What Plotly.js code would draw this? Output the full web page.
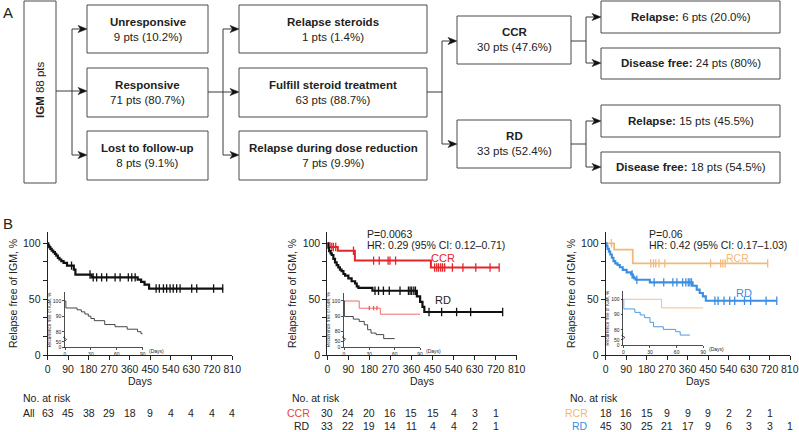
<!DOCTYPE html>
<html><head><meta charset="utf-8">
<script src="https://cdn.plot.ly/plotly-3.0.1.min.js"></script>
<style>html,body{margin:0;padding:0;background:#fff}#c{width:799px;height:432px}</style>
</head><body><div id="c"></div>
<script>
// ================= DATA =================
// Flowchart (panel A)
const cohortLabel = ['IGM', '88 pts'];
const stage1Names = ['Unresponsive', 'Responsive', 'Lost to follow-up'];
const stage1Counts = ['9 pts (10.2%)', '71 pts (80.7%)', '8 pts (9.1%)'];
const stage2Names = ['Relapse steroids', 'Fulfill steroid treatment', 'Relapse during dose reduction'];
const stage2Counts = ['1 pts (1.4%)', '63 pts (88.7%)', '7 pts (9.9%)'];
const stage3Names = ['CCR', 'RD'];
const stage3Counts = ['30 pts (47.6%)', '33 pts (52.4%)'];
const outcomeNames = ['Relapse:', 'Disease free:', 'Relapse:', 'Disease free:'];
const outcomeCounts = ['6 pts (20.0%)', '24 pts (80%)', '15 pts (45.5%)', '18 pts (54.5%)'];

// Kaplan-Meier axes
const xTickDays = [0, 90, 180, 270, 360, 450, 540, 630, 720, 810];
const insetTickDays = [0, 30, 60, 90];

// Panel B1: all patients
const allT = [0, 3, 7, 12, 18, 25, 32, 38, 45, 52, 60, 70, 85, 115, 122, 193, 395, 410, 425, 445, 770];
const allS = [100, 98, 96.5, 95, 93.5, 92, 90.5, 89, 87, 85.5, 84, 82.5, 80, 76.5, 72, 69.5, 67.5, 65.5, 63, 59.5, 59.5];
const allCens = [105, 186, 200, 215, 237, 259, 296, 318, 354, 369, 384, 476, 490, 508, 522, 537, 551, 566, 581, 632, 654, 728, 768];
const allRisk = [63, 45, 38, 29, 18, 9, 4, 4, 4, 4];
const allInT = [0, 1, 14, 19, 23, 27, 30, 34, 46, 58, 72, 84, 88, 90];
const allInS = [100, 95.5, 94.3, 93, 91.6, 90.2, 88.7, 87.3, 84.8, 83.4, 81.8, 80.2, 78.9, 78.9];

// Panel B2: CCR vs RD
const ccrT = [0, 10, 45, 118, 443, 735];
const ccrS = [100, 96.7, 93.3, 84.5, 78.3, 78.3];
const ccrCens = [19, 26, 36, 112, 198, 222, 260, 268, 292, 459, 468, 476, 485, 493, 502, 535, 580, 635, 696, 735];
const rd2T = [0, 3, 8, 14, 19, 26, 33, 40, 47, 54, 61, 69, 76, 90, 104, 119, 126, 133, 193, 383, 397, 407, 415, 750];
const rd2S = [100, 96, 93, 91, 89.5, 86, 83, 80.5, 78.5, 76.5, 75, 72.5, 71, 68.5, 66, 64, 61.5, 60, 57.5, 52.5, 47.5, 43, 38.5, 38.5];
const rd2Cens = [204, 219, 240, 265, 311, 347, 354, 361, 370, 377, 435, 489, 553, 613, 750];
const ccrRisk = [30, 24, 20, 16, 15, 15, 4, 3, 1];
const rd2Risk = [33, 22, 19, 14, 11, 4, 4, 2, 1];
const ccrInT = [0, 18, 43, 91];
const ccrInS = [100, 95.3, 91.4, 91.4];
const ccrInCens = [30, 35, 39];
const rd2InT = [0, 0.5, 11, 18, 24, 28, 32, 38, 47, 60];
const rd2InS = [100, 89.9, 88.2, 86.7, 84.5, 81.3, 79.1, 78.1, 75.5, 75.5];

// Panel B3: RCR vs RD
const rcrT = [0, 37, 119, 712];
const rcrS = [100, 94.4, 82, 82];
const rcrCens = [25, 198, 210, 220, 234, 260, 461, 505, 515, 525, 712];
const rd3T = [0, 4, 8, 14, 20, 27, 34, 42, 52, 62, 75, 92, 112, 120, 125, 132, 194, 382, 400, 413, 427, 440, 752];
const rd3S = [100, 97.5, 95, 92.5, 90, 87, 84, 82, 80.5, 78.5, 76.2, 74, 72, 70, 68.6, 67.3, 65, 62, 58.5, 55.5, 52.5, 48.5, 48.5];
const rd3Cens = [116, 137, 213, 255, 295, 313, 338, 352, 363, 370, 377, 480, 494, 520, 545, 567, 610, 637, 705, 752];
const rcrRisk = [18, 16, 15, 9, 9, 9, 2, 2, 1];
const rd3Risk = [45, 30, 25, 21, 17, 9, 6, 3, 3, 1];
const rcrInT = [0, 43, 90];
const rcrInS = [100, 94.4, 94.4];
const rd3InT = [0, 0.5, 13, 19, 24, 30, 34, 45, 59, 64, 75];
const rd3InS = [100, 93.7, 91.5, 89.8, 88, 85, 82.1, 80.4, 78.9, 76.7, 76.7];

// ================= HELPERS =================
const W = 799, H = 432;
const FONT = 'Liberation Sans, Arial, Helvetica, sans-serif';
const TXT = '#222';
const fx = p => p / W;
const fy = p => 1 - p / H;
const RED = '#e4262b', ORANGE = '#f3b87c', BLUE = '#3b8ee2', BLACK = '#111';

function stepAt(T, S, t) { let v = S[0]; for (let i = 0; i < T.length; i++) if (T[i] <= t) v = S[i]; return v; }

const shapes = [];
const annotations = [];
const LINEC = '#3a3a3a';
function rect(x0, y0, x1, y1) {
  shapes.push({type: 'rect', xref: 'paper', yref: 'paper', x0: fx(x0), x1: fx(x1), y0: fy(y1), y1: fy(y0),
    line: {color: '#4a4a4a', width: 1}, fillcolor: '#fff', layer: 'above'});
}
function seg(x0, y0, x1, y1) {
  shapes.push({type: 'line', xref: 'paper', yref: 'paper', x0: fx(x0), x1: fx(x1), y0: fy(y0), y1: fy(y1),
    line: {color: LINEC, width: 1}});
}
function arrow(x0, x1, y) {
  seg(x0, y, x1 - 5, y);
  const p = `M ${fx(x1)} ${fy(y)} L ${fx(x1 - 9)} ${fy(y - 3.6)} L ${fx(x1 - 6.5)} ${fy(y)} L ${fx(x1 - 9)} ${fy(y + 3.6)} Z`;
  shapes.push({type: 'path', xref: 'paper', yref: 'paper', path: p, fillcolor: '#111', line: {color: '#111', width: 0.5}});
}
function txt(x, y, text, opts) {
  annotations.push(Object.assign({xref: 'paper', yref: 'paper', x: fx(x), y: fy(y), text: text, showarrow: false,
    xanchor: 'center', yanchor: 'middle', font: {family: FONT, size: 11.5, color: TXT}}, opts || {}));
}

// ================= PANEL A: FLOWCHART =================
txt(8, 12, 'A', {font: {family: FONT, size: 15, color: TXT}});
txt(8, 223, 'B', {font: {family: FONT, size: 15, color: TXT}});

rect(24, 1, 56, 183);
txt(40, 90, '<b>' + cohortLabel[0] + '</b> ' + cohortLabel[1], {textangle: -90});

const rowY = [[5, 53], [68, 117], [131, 180]];
// column 1
seg(56, 91, 72, 91);
seg(72, 29, 72, 155);
[29, 91, 155].forEach(y => arrow(72, 87, y));
rowY.forEach((r, i) => {
  rect(87, r[0], 208, r[1]);
  txt(147.5, (r[0] + r[1]) / 2, '<b>' + stage1Names[i] + '</b><br>' + stage1Counts[i]);
});
// column 2
seg(208, 92, 223, 92);
seg(223, 29, 223, 155);
[29, 92, 155].forEach(y => arrow(223, 239, y));
rowY.forEach((r, i) => {
  rect(239, r[0], 427, r[1]);
  txt(333, (r[0] + r[1]) / 2, '<b>' + stage2Names[i] + '</b><br>' + stage2Counts[i]);
});
// column 3
seg(427, 92, 442, 92);
seg(442, 41, 442, 144);
arrow(442, 457, 41);
arrow(442, 457, 144);
[[16, 64], [120, 168]].forEach((r, i) => {
  rect(457, r[0], 571, r[1]);
  txt(514, (r[0] + r[1]) / 2, '<b>' + stage3Names[i] + '</b><br>' + stage3Counts[i]);
});
// column 4
seg(571, 41, 586, 41);
seg(586, 17, 586, 63);
arrow(586, 601, 17); arrow(586, 601, 63);
seg(571, 144, 586, 144);
seg(586, 121, 586, 167);
arrow(586, 601, 121); arrow(586, 601, 167);
[[1, 33], [48, 79], [105, 137], [152, 183]].forEach((r, i) => {
  rect(601, r[0], 780, r[1]);
  txt(690.5, (r[0] + r[1]) / 2, '<b>' + outcomeNames[i] + '</b> ' + outcomeCounts[i]);
});

// ================= PANEL B: KM PLOTS =================
const mainTop = 232, mainBot = 355;
const mainYRange = [0, 110.1];
const panels = [
  {x0: 47.6, x1: 232.3}, {x0: 327.3, x1: 516.7}, {x0: 605.7, x1: 790}
];
const insets = [
  {x0: 65, x1: 142.7, y100: 301, y80: 332},
  {x0: 344, x1: 420, y100: 301, y80: 331.7},
  {x0: 623.3, x1: 703.3, y100: 299.3, y80: 330}
];
const insetYRange = [70, 105.5];

const layout = {
  width: W, height: H, margin: {l: 0, r: 0, t: 0, b: 0},
  paper_bgcolor: '#fff', plot_bgcolor: 'rgba(0,0,0,0)', showlegend: false,
  font: {family: FONT, color: TXT, size: 10.5},
  shapes: shapes, annotations: annotations
};

panels.forEach((p, i) => {
  const n = i === 0 ? '' : String(i + 1);
  // the right-most label of the last panel sits at the page edge; it is drawn as an annotation below
  const labels = xTickDays.map((d, k) => (i === 2 && k === xTickDays.length - 1) ? '' : String(d));
  layout['xaxis' + n] = {
    domain: [fx(p.x0), fx(p.x1)], range: [0, 810], anchor: 'y' + n,
    tickvals: xTickDays, ticktext: labels, ticks: 'outside', ticklen: 4, tickwidth: 1, tickcolor: TXT,
    ticklabeloverflow: 'allow',
    showline: true, linecolor: TXT, linewidth: 1, showgrid: false, zeroline: false,
    tickfont: {family: FONT, size: 10.5, color: TXT},
    title: {text: 'Days', font: {family: FONT, size: 10.5, color: TXT}, standoff: 3}, fixedrange: true
  };
  layout['yaxis' + n] = {
    domain: [fy(mainBot), fy(mainTop)], range: mainYRange, anchor: 'x' + n,
    tickvals: [0, 100 / 6, 200 / 6, 50, 400 / 6, 500 / 6, 100], ticktext: ['0', '', '', '50', '', '', '100'],
    ticks: 'outside', ticklen: 4, tickwidth: 1, tickcolor: TXT,
    showline: true, linecolor: TXT, linewidth: 1, showgrid: false, zeroline: false,
    tickfont: {family: FONT, size: 10.5, color: TXT},
    title: {text: 'Relapse free of IGM, %', font: {family: FONT, size: 10.5, color: TXT}, standoff: 3}, fixedrange: true
  };
});
// last tick label of panel 3, placed at the tick's own pixel position on the page
txt(panels[2].x1, mainBot + 13.5, String(xTickDays[xTickDays.length - 1]), {font: {family: FONT, size: 10.5, color: TXT}});

insets.forEach((q, i) => {
  const n = String(i + 4);
  const per = (q.y80 - q.y100) / 20;
  const bot = q.y80 + (80 - insetYRange[0]) * per;
  const top = q.y100 - (insetYRange[1] - 100) * per;
  layout['xaxis' + n] = {
    domain: [fx(q.x0), fx(q.x1)], range: [0, 90], anchor: 'y' + n,
    tickvals: insetTickDays, ticks: 'outside', ticklen: 2, tickwidth: 0.8, tickcolor: TXT,
    showline: true, linecolor: TXT, linewidth: 0.8, showgrid: false, zeroline: false,
    tickfont: {family: FONT, size: 5, color: TXT}, fixedrange: true
  };
  layout['yaxis' + n] = {
    domain: [fy(bot), fy(top)], range: insetYRange, anchor: 'x' + n,
    tickvals: [70, 73.6, 80, 90, 100], ticktext: ['0', '50', '80', '90', '100'],
    ticks: 'outside', ticklen: 2, tickwidth: 0.8, tickcolor: TXT,
    showline: true, linecolor: TXT, linewidth: 0.8, showgrid: false, zeroline: false,
    tickfont: {family: FONT, size: 5, color: TXT},
    title: {text: 'Recurrence free of IGM, %', font: {family: FONT, size: 4.6, color: TXT}, standoff: 1}, fixedrange: true
  };
  // axis break zig-zag
  const zy = q.y80 + 4.5 * per;
  const zx = q.x0;
  shapes.push({type: 'path', xref: 'paper', yref: 'paper',
    path: `M ${fx(zx)} ${fy(zy - 3)} L ${fx(zx - 1.6)} ${fy(zy - 1.5)} L ${fx(zx + 1.6)} ${fy(zy + 0.5)} L ${fx(zx)} ${fy(zy + 2)}`,
    line: {color: TXT, width: 0.8}});
  annotations.push({xref: 'x' + n, yref: 'paper', x: 90, y: fy(bot + 3.8), xanchor: 'left', yanchor: 'middle', xshift: 4,
    text: '(Days)', showarrow: false, font: {family: FONT, size: 5, color: TXT}});
});

// ---- traces ----
const traces = [];
function curve(T, S, color, width, ax) {
  traces.push({x: T, y: S, mode: 'lines', line: {shape: 'hv', color: color, width: width}, xaxis: 'x' + ax, yaxis: 'y' + ax, hoverinfo: 'skip'});
}
function cens(T, S, C, color, size, ax) {
  traces.push({x: C, y: C.map(t => stepAt(T, S, t)), mode: 'markers', xaxis: 'x' + ax, yaxis: 'y' + ax, hoverinfo: 'skip',
    marker: {symbol: 'line-ns', size: size, color: color, line: {color: color, width: 1.3}}});
}
curve(allT, allS, BLACK, 2.2, ''); cens(allT, allS, allCens, BLACK, 6, '');
curve(allInT, allInS, '#333', 0.9, '4');

curve(ccrT, ccrS, RED, 2, '2'); cens(ccrT, ccrS, ccrCens, RED, 6, '2');
curve(rd2T, rd2S, BLACK, 2.2, '2'); cens(rd2T, rd2S, rd2Cens, BLACK, 6, '2');
curve(ccrInT, ccrInS, '#ee5a5a', 0.9, '5'); cens(ccrInT, ccrInS, ccrInCens, '#ee5a5a', 3, '5');
curve(rd2InT, rd2InS, '#333', 0.9, '5');

curve(rcrT, rcrS, ORANGE, 1.8, '3'); cens(rcrT, rcrS, rcrCens, ORANGE, 6, '3');
curve(rd3T, rd3S, BLUE, 2.1, '3'); cens(rd3T, rd3S, rd3Cens, BLUE, 6, '3');
curve(rcrInT, rcrInS, ORANGE, 0.9, '6');
curve(rd3InT, rd3InS, BLUE, 0.9, '6');

// ---- text in panel B ----
const kmFont = (c) => ({family: FONT, size: 10.5, color: c || TXT});
txt(365, 234, 'P=0.0063', {xanchor: 'left', font: kmFont()});
txt(365, 244.5, 'HR: 0.29 (95% CI: 0.12\u20130.71)', {xanchor: 'left', font: kmFont()});
txt(647, 234, 'P=0.06', {xanchor: 'left', font: kmFont()});
txt(647, 244.5, 'HR: 0.42 (95% CI: 0.17\u20131.03)', {xanchor: 'left', font: kmFont()});
txt(442.5, 258, 'CCR', {font: {family: FONT, size: 11, color: RED}});
txt(443, 300, 'RD', {font: {family: FONT, size: 11, color: TXT}});
txt(737.5, 257.5, 'RCR', {font: {family: FONT, size: 10.5, color: ORANGE}});
txt(744, 293, 'RD', {font: {family: FONT, size: 11, color: BLUE}});

// risk tables
const rowA = 413, rowB = 426, headY = 398;
function riskRow(vals, axis, y) {
  vals.forEach((v, i) => annotations.push({xref: axis, yref: 'paper', x: xTickDays[i], y: fy(y), text: String(v),
    showarrow: false, xanchor: 'center', yanchor: 'middle', font: kmFont()}));
}
txt(21, headY, 'No. at risk', {xanchor: 'left', font: kmFont()});
txt(21, rowA, 'All', {xanchor: 'left', font: kmFont()});
riskRow(allRisk, 'x', rowA);
txt(290, headY, 'No. at risk', {xanchor: 'left', font: kmFont()});
txt(312, rowA, 'CCR', {xanchor: 'right', font: kmFont('#e8413f')});
txt(312, rowB, 'RD', {xanchor: 'right', font: kmFont()});
riskRow(ccrRisk, 'x2', rowA);
riskRow(rd2Risk, 'x2', rowB);
txt(568, headY, 'No. at risk', {xanchor: 'left', font: kmFont()});
txt(590, rowA, 'RCR', {xanchor: 'right', font: kmFont(ORANGE)});
txt(590, rowB, 'RD', {xanchor: 'right', font: kmFont(BLUE)});
riskRow(rcrRisk, 'x3', rowA);
riskRow(rd3Risk, 'x3', rowB);

Plotly.newPlot('c', traces, layout, {staticPlot: true, displayModeBar: false});
</script>
</body></html>
